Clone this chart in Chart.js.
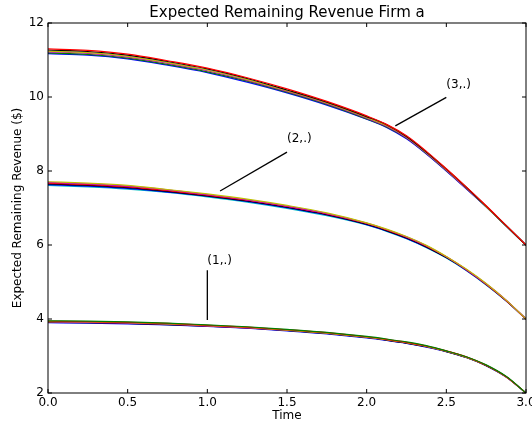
<!DOCTYPE html>
<html>
<head>
<meta charset="utf-8">
<script src="https://cdn.jsdelivr.net/npm/chart.js@4.4.1/dist/chart.umd.min.js"></script>
<style>
  html, body { margin: 0; padding: 0; background: #fff; }
  #wrap { width: 532px; height: 427px; }
</style>
</head>
<body>
<div id="wrap"><canvas id="revenueChart" width="532" height="427"></canvas></div>
<script>
// time grid (x axis)
const times = [0, 0.25, 0.5, 0.75, 1, 1.25, 1.5, 1.75, 2, 2.125, 2.25, 2.375, 2.5, 2.625, 2.75, 2.875, 3];

// state 3 bundle, top to bottom
const state3 = [
    [11.30, 11.26, 11.16, 10.98, 10.78, 10.52, 10.22, 9.88, 9.49, 9.26, 8.95, 8.53, 8.06, 7.57, 7.06, 6.53, 6.00],
    [11.27, 11.23, 11.13, 10.96, 10.76, 10.50, 10.19, 9.86, 9.47, 9.25, 8.93, 8.51, 8.05, 7.56, 7.05, 6.53, 6.00],
    [11.24, 11.20, 11.10, 10.93, 10.73, 10.47, 10.17, 9.84, 9.45, 9.23, 8.92, 8.50, 8.04, 7.55, 7.04, 6.52, 6.00],
    [11.22, 11.18, 11.08, 10.91, 10.71, 10.45, 10.15, 9.82, 9.43, 9.21, 8.90, 8.48, 8.02, 7.53, 7.04, 6.52, 6.00],
    [11.19, 11.15, 11.05, 10.88, 10.68, 10.43, 10.13, 9.80, 9.41, 9.19, 8.89, 8.47, 8.01, 7.53, 7.03, 6.51, 6.00],
    [11.17, 11.13, 11.03, 10.86, 10.66, 10.40, 10.11, 9.78, 9.40, 9.18, 8.87, 8.46, 8.00, 7.52, 7.03, 6.51, 6.00]
];
const state3Colors = ['r', 'k', 'y', 'm', 'g', 'b'];

// state 2 bundle
const state2 = [
    [7.71, 7.67, 7.61, 7.50, 7.38, 7.24, 7.07, 6.87, 6.60, 6.43, 6.23, 5.99, 5.69, 5.35, 4.96, 4.51, 4.00],
    [7.69, 7.65, 7.59, 7.49, 7.36, 7.22, 7.05, 6.85, 6.59, 6.42, 6.22, 5.98, 5.68, 5.34, 4.95, 4.51, 4.00],
    [7.67, 7.63, 7.57, 7.47, 7.35, 7.21, 7.04, 6.84, 6.58, 6.41, 6.21, 5.97, 5.68, 5.33, 4.94, 4.50, 4.00],
    [7.65, 7.61, 7.55, 7.45, 7.33, 7.19, 7.02, 6.82, 6.56, 6.39, 6.19, 5.95, 5.66, 5.33, 4.94, 4.50, 4.00],
    [7.63, 7.59, 7.53, 7.43, 7.32, 7.18, 7.01, 6.81, 6.55, 6.38, 6.18, 5.94, 5.66, 5.32, 4.93, 4.49, 4.00],
    [7.61, 7.57, 7.51, 7.42, 7.30, 7.16, 6.99, 6.79, 6.54, 6.37, 6.17, 5.93, 5.65, 5.31, 4.92, 4.49, 4.00]
];
const state2Colors = ['y', 'm', 'r', 'k', 'b', 'c'];

// state 1 bundle
const state1 = [
    [3.95, 3.94, 3.92, 3.89, 3.84, 3.79, 3.72, 3.64, 3.53, 3.46, 3.38, 3.28, 3.14, 2.98, 2.76, 2.45, 2.00],
    [3.94, 3.93, 3.91, 3.88, 3.83, 3.78, 3.71, 3.63, 3.52, 3.45, 3.37, 3.27, 3.14, 2.98, 2.75, 2.44, 2.00],
    [3.93, 3.92, 3.90, 3.87, 3.82, 3.77, 3.70, 3.62, 3.51, 3.44, 3.36, 3.26, 3.13, 2.97, 2.75, 2.44, 2.00],
    [3.92, 3.91, 3.89, 3.86, 3.81, 3.76, 3.70, 3.62, 3.51, 3.44, 3.36, 3.26, 3.13, 2.97, 2.75, 2.44, 2.00],
    [3.91, 3.90, 3.88, 3.85, 3.81, 3.76, 3.69, 3.61, 3.50, 3.43, 3.35, 3.25, 3.12, 2.96, 2.74, 2.44, 2.00],
    [3.90, 3.89, 3.87, 3.84, 3.80, 3.75, 3.68, 3.60, 3.49, 3.42, 3.34, 3.24, 3.12, 2.96, 2.74, 2.43, 2.00]
];
const state1Colors = ['g', 'r', 'y', 'm', 'k', 'b'];

// axis ticks
const xTicks = [0, 0.5, 1, 1.5, 2, 2.5, 3];
const yTicks = [2, 4, 6, 8, 10, 12];

// annotations (data coords)
const noteText = ['(1,.)', '(2,.)', '(3,.)'];
const noteTextX = [1.0, 1.5, 2.5];
const noteTextY = [5.5, 8.78, 10.25];
const noteFromX = [1.0, 1.5, 2.5];
const noteFromY = [5.32, 8.51, 9.99];
const noteToX = [1.0, 1.08, 2.18];
const noteToY = [3.97, 7.46, 9.22];

// matplotlib classic colour letters
const mplColors = {
    b: '#0000ff', g: '#008000', r: '#ff0000', c: '#00bfbf',
    m: '#bf00bf', y: '#bfbf00', k: '#000000'
};

const FONT = '"DejaVu Sans", "Liberation Sans", sans-serif';

function buildDatasets() {
    const out = [];
    [[state3, state3Colors], [state2, state2Colors], [state1, state1Colors]].forEach(([lines, colors]) => {
        lines.forEach((vals, i) => {
            out.push({
                data: vals.map((v, j) => ({ x: times[j], y: v })),
                borderColor: mplColors[colors[i]],
                borderWidth: 1.2,
                pointRadius: 0,
                fill: false,
                cubicInterpolationMode: 'monotone'
            });
        });
    });
    return out;
}

const framePlugin = {
    id: 'framePlugin',
    afterDraw(chart) {
        const { ctx, chartArea: a, scales: { x, y } } = chart;
        ctx.save();

        // title over the axes
        ctx.fillStyle = '#000';
        ctx.font = '15px ' + FONT;
        ctx.textAlign = 'center';
        ctx.textBaseline = 'alphabetic';
        ctx.fillText('Expected Remaining Revenue Firm a', (a.left + a.right) / 2, 17);

        // annotations
        ctx.strokeStyle = '#000';
        ctx.lineWidth = 1.3;
        ctx.font = '12px ' + FONT;
        ctx.textAlign = 'left';
        noteText.forEach((t, i) => {
            ctx.beginPath();
            ctx.moveTo(x.getPixelForValue(noteFromX[i]), y.getPixelForValue(noteFromY[i]));
            ctx.lineTo(x.getPixelForValue(noteToX[i]), y.getPixelForValue(noteToY[i]));
            ctx.stroke();
            ctx.fillText(t, x.getPixelForValue(noteTextX[i]), y.getPixelForValue(noteTextY[i]));
        });

        // box and inward ticks
        ctx.lineWidth = 1;
        ctx.strokeRect(a.left, a.top, a.right - a.left, a.bottom - a.top);
        const tl = 4;
        ctx.beginPath();
        xTicks.forEach(v => {
            const px = x.getPixelForValue(v);
            ctx.moveTo(px, a.bottom); ctx.lineTo(px, a.bottom - tl);
            ctx.moveTo(px, a.top); ctx.lineTo(px, a.top + tl);
        });
        yTicks.forEach(v => {
            const py = y.getPixelForValue(v);
            ctx.moveTo(a.left, py); ctx.lineTo(a.left + tl, py);
            ctx.moveTo(a.right, py); ctx.lineTo(a.right - tl, py);
        });
        ctx.stroke();
        ctx.restore();
    }
};

function initRevenueChart() {
    const el = document.getElementById('revenueChart');
    if (!el || typeof Chart === 'undefined') {
        console.error('Chart.js or canvas missing');
        return;
    }
    new Chart(el.getContext('2d'), {
        type: 'line',
        data: { datasets: buildDatasets() },
        options: {
            responsive: false,
            animation: false,
            layout: { padding: { top: 23, right: 6, left: 0, bottom: 0 } },
            plugins: {
                legend: { display: false },
                title: { display: false },
                tooltip: { enabled: false }
            },
            scales: {
                x: {
                    type: 'linear',
                    min: 0,
                    max: 3,
                    afterBuildTicks: s => { s.ticks = xTicks.map(v => ({ value: v })); },
                    afterFit: s => { s.height = 34; s.paddingLeft = 0; s.paddingRight = 0; },
                    grid: { display: false, drawTicks: false },
                    border: { display: false },
                    ticks: {
                        autoSkip: false,
                        maxRotation: 0,
                        padding: 3,
                        color: '#000',
                        font: { family: FONT, size: 12 },
                        callback: v => Number(v).toFixed(1)
                    },
                    title: {
                        display: true,
                        text: 'Time',
                        color: '#000',
                        font: { family: FONT, size: 12 },
                        padding: { top: 0, bottom: 4 }
                    }
                },
                y: {
                    type: 'linear',
                    min: 2,
                    max: 12,
                    afterBuildTicks: s => { s.ticks = yTicks.map(v => ({ value: v })); },
                    afterFit: s => { s.width = 48; s.paddingTop = 0; s.paddingBottom = 0; },
                    grid: { display: false, drawTicks: false },
                    border: { display: false },
                    ticks: {
                        padding: 4,
                        color: '#000',
                        font: { family: FONT, size: 12 },
                        callback: v => String(v)
                    },
                    title: {
                        display: true,
                        text: 'Expected Remaining Revenue ($)',
                        color: '#000',
                        font: { family: FONT, size: 12 },
                        padding: { top: 11, bottom: 0 }
                    }
                }
            }
        },
        plugins: [framePlugin]
    });
}

initRevenueChart();
</script>
</body>
</html>
